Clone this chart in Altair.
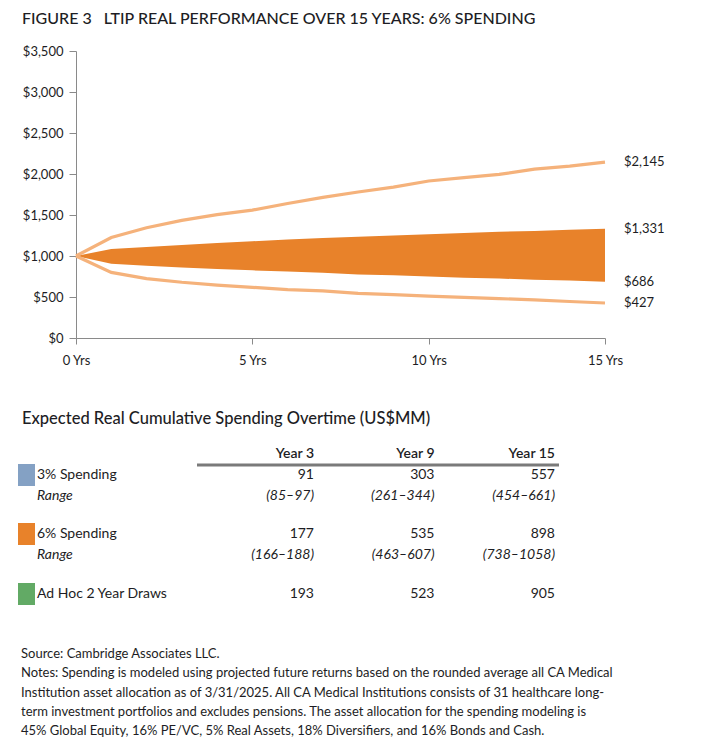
import altair as alt
import pandas as pd

FONT = "Lato"
TEXT = "#1d1d24"
AXIS = "#8a8a8a"
ORANGE = "#E8822A"
LIGHT = "#F5B27B"

# ---------------- data ----------------
years = list(range(16))
upper_line = [1000, 1225, 1345, 1435, 1505, 1560, 1640, 1715, 1780, 1840, 1915, 1955, 1995, 2060, 2095, 2145]
lower_line = [1000, 800, 725, 680, 645, 618, 590, 575, 545, 530, 510, 495, 480, 465, 445, 427]
band_upper = [1000, 1085, 1110, 1135, 1160, 1180, 1200, 1220, 1235, 1250, 1265, 1280, 1295, 1305, 1320, 1331]
band_lower = [1000, 905, 880, 860, 840, 825, 810, 795, 775, 765, 750, 735, 725, 710, 700, 686]

x_ticks = [0, 5, 10, 15]
y_ticks = [0, 500, 1000, 1500, 2000, 2500, 3000, 3500]

table_cols = ["Year 3", "Year 9", "Year 15"]
row_labels = ["3% Spending", "Range", "6% Spending", "Range", "Ad Hoc 2 Year Draws"]
spend3 = ["91", "303", "557"]
spend3_range = ["(85\u201397)", "(261\u2013344)", "(454\u2013661)"]
spend6 = ["177", "535", "898"]
spend6_range = ["(166\u2013188)", "(463\u2013607)", "(738\u20131058)"]
adhoc = ["193", "523", "905"]
swatch_colors = ["#84A1C4", "#E8822A", "#62AA65"]

title_text = "FIGURE 3\u00a0\u00a0 LTIP REAL PERFORMANCE OVER 15 YEARS: 6% SPENDING"
table_title = "Expected Real Cumulative Spending Overtime (US$MM)"
notes_lines = [
    "Source: Cambridge Associates LLC.",
    "Notes: Spending is modeled using projected future returns based on the rounded average all CA Medical",
    "Institution asset allocation as of 3/31/2025. All CA Medical Institutions consists of 31 healthcare long-",
    "term investment portfolios and excludes pensions. The asset allocation for the spending modeling is",
    "45% Global Equity, 16% PE/VC, 5% Real Assets, 18% Diversifiers, and 16% Bonds and Cash.",
]

# ---------------- line chart ----------------
perf = pd.DataFrame({
    "year": years,
    "upper_line": upper_line,
    "lower_line": lower_line,
    "band_upper": band_upper,
    "band_lower": band_lower,
})

x_axis = alt.Axis(values=x_ticks, labelExpr="datum.value + ' Yrs'", title=None, grid=False,
                  tickSize=6, labelPadding=10, domainColor=AXIS, tickColor=AXIS,
                  labelFontSize=13, labelColor=TEXT, labelFont=FONT, labelFlush=False)
x_scale = alt.Scale(domain=[0, 15], nice=False, zero=False)
y_scale = alt.Scale(domain=[0, 3500], nice=False)
y_axis = alt.Axis(values=y_ticks, format="$,.0f", title=None, grid=False,
                  tickSize=7, labelPadding=6, domainColor=AXIS, tickColor=AXIS,
                  labelFontSize=13, labelColor=TEXT, labelFont=FONT)

base = alt.Chart(perf)
band = base.mark_area(color=ORANGE, opacity=1).encode(
    x=alt.X("year:Q", scale=x_scale, axis=x_axis),
    y=alt.Y("band_lower:Q", scale=y_scale, axis=y_axis),
    y2="band_upper:Q",
)
lines = base.transform_fold(["upper_line", "lower_line"], as_=["series", "value"]).mark_line(
    color=LIGHT, strokeWidth=3.2
).encode(
    x=alt.X("year:Q", scale=x_scale, axis=x_axis),
    y=alt.Y("value:Q", scale=y_scale, axis=y_axis),
    detail="series:N",
)
end_df = pd.DataFrame({
    "year": [years[-1]] * 4,
    "value": [upper_line[-1], band_upper[-1], band_lower[-1], lower_line[-1]],
})
end_labels = alt.Chart(end_df).transform_calculate(
    label="'$' + format(datum.value, ',')"
).mark_text(align="left", baseline="middle", dx=19, fontSize=13, font=FONT, color=TEXT).encode(
    x=alt.X("year:Q", scale=x_scale, axis=x_axis),
    y=alt.Y("value:Q", scale=y_scale, axis=y_axis),
    text="label:N",
)
line_chart = alt.layer(band, lines, end_labels).properties(width=529, height=287)

# ---------------- table ----------------
row_pos = [1.05, 2.1, 4.0, 5.05, 7.0]
row_values = [spend3, spend3_range, spend6, spend6_range, adhoc]
row_italic = [False, True, False, True, False]

cells = []
for k, c in enumerate(table_cols):
    cells.append({"row": 0.0, "col": k + 1, "text": c, "kind": "header"})
for i, vals in enumerate(row_values):
    for k, v in enumerate(vals):
        cells.append({"row": row_pos[i], "col": k + 1, "text": v,
                      "kind": "italic" if row_italic[i] else "plain"})
cells_df = pd.DataFrame(cells)

labels_df = pd.DataFrame({
    "row": row_pos,
    "text": row_labels,
    "kind": ["italic" if it else "plain" for it in row_italic],
})
sw_rows = [row_pos[i] for i in range(len(row_labels)) if not row_italic[i]]
swatch_df = pd.DataFrame({"row": sw_rows, "color": swatch_colors})

ty_scale = alt.Scale(domain=[0, 7], range=[10, 150])
tx_scale = alt.Scale(domain=[1, 3], range=[238, 479])

tbase = alt.Chart(cells_df)
header = tbase.transform_filter("datum.kind == 'header'").mark_text(
    align="right", baseline="middle", fontSize=14, font=FONT, fontWeight=600, color=TEXT
).encode(x=alt.X("col:Q", scale=tx_scale, axis=None), y=alt.Y("row:Q", scale=ty_scale, axis=None), text="text:N")
plain = tbase.transform_filter("datum.kind == 'plain'").mark_text(
    align="right", baseline="middle", fontSize=14, font=FONT, color=TEXT
).encode(x=alt.X("col:Q", scale=tx_scale, axis=None), y=alt.Y("row:Q", scale=ty_scale, axis=None), text="text:N")
italic = tbase.transform_filter("datum.kind == 'italic'").mark_text(
    align="right", baseline="middle", fontSize=14, font=FONT, fontStyle="italic", color=TEXT
).encode(x=alt.X("col:Q", scale=tx_scale, axis=None), y=alt.Y("row:Q", scale=ty_scale, axis=None), text="text:N")

lbase = alt.Chart(labels_df)
lab_plain = lbase.transform_filter("datum.kind == 'plain'").mark_text(
    align="left", baseline="middle", fontSize=14, font=FONT, color=TEXT
).encode(x=alt.value(-39), y=alt.Y("row:Q", scale=ty_scale, axis=None), text="text:N")
lab_italic = lbase.transform_filter("datum.kind == 'italic'").mark_text(
    align="left", baseline="middle", fontSize=14, font=FONT, fontStyle="italic", color=TEXT
).encode(x=alt.value(-39), y=alt.Y("row:Q", scale=ty_scale, axis=None), text="text:N")

swatches = alt.Chart(swatch_df).transform_calculate(
    y0="datum.row - 0.55", y1="datum.row + 0.55"
).mark_rect().encode(
    x=alt.value(-58), x2=alt.value(-41),
    y=alt.Y("y0:Q", scale=ty_scale, axis=None), y2="y1:Q",
    color=alt.Color("color:N", scale=None),
)

rule = alt.Chart(pd.DataFrame({"row": [0.55]})).mark_rule(color="#7a7a7a", strokeWidth=3).encode(
    x=alt.value(121), x2=alt.value(483), y=alt.Y("row:Q", scale=ty_scale, axis=None)
)

table_chart = alt.layer(swatches, rule, header, plain, italic, lab_plain, lab_italic).properties(
    width=529, height=160,
    title=alt.Title(table_title, anchor="start", frame="group", dx=-54, fontSize=16.5, font=FONT,
                    fontWeight=500, color=TEXT, offset=17),
)

# ---------------- notes ----------------
notes_df = pd.DataFrame({"line": list(range(len(notes_lines))), "text": notes_lines})
notes_chart = alt.Chart(notes_df).mark_text(
    align="left", baseline="middle", fontSize=13, font=FONT, color=TEXT
).encode(
    x=alt.value(-55),
    y=alt.Y("line:Q", scale=alt.Scale(domain=[0, 4], range=[5, 82]), axis=None),
    text="text:N",
).properties(width=529, height=90)

chart = alt.vconcat(line_chart, table_chart, notes_chart, spacing=43).properties(
    title=alt.Title(title_text, anchor="start", dx=4, fontSize=16, font=FONT, fontWeight=500,
                    color=TEXT, offset=18),
    padding={"left": 10, "top": 3, "right": 5, "bottom": 5},
).configure_view(stroke=None)

chart.save("out.html", embed_options={"renderer": "svg", "actions": False})
